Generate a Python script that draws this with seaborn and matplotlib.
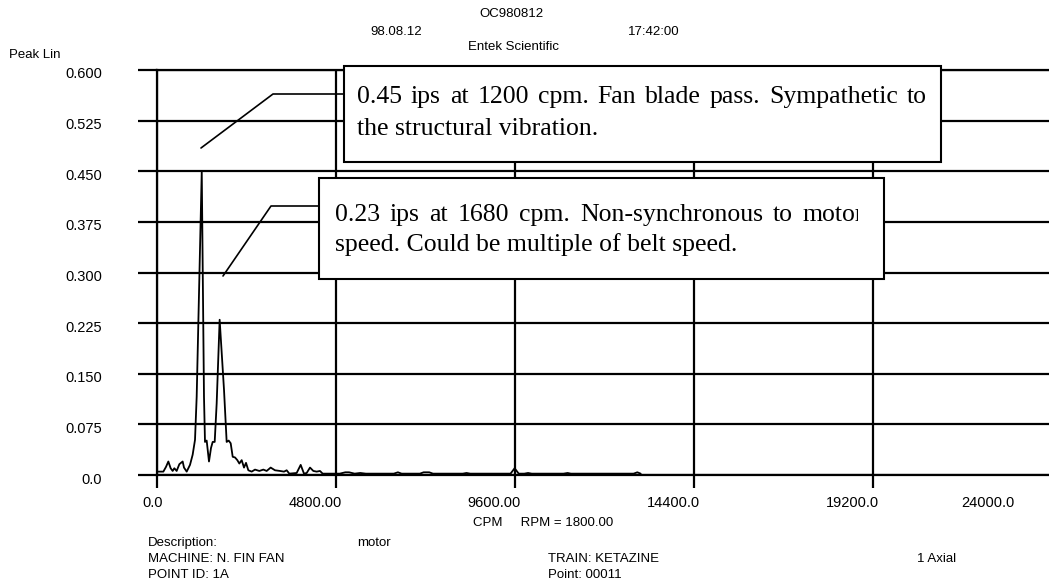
import matplotlib
matplotlib.use("Agg")
import numpy as np
import pandas as pd
import matplotlib.pyplot as plt
import seaborn as sns
from matplotlib.patches import Rectangle
from matplotlib.lines import Line2D
from matplotlib.transforms import ScaledTranslation, Bbox, TransformedBbox

# ---------------- data ----------------
# Background spectrum, CPM vs peak amplitude (ips)
cpm = [35, 170, 241, 304, 366, 420, 465, 527, 599, 688, 724, 796, 885, 956,
       1019, 1064, 1260, 1287, 1332, 1394, 1448, 1493, 1547, 1600, 1797, 1868,
       1922, 1976, 2030, 2092, 2154, 2208, 2271, 2333, 2387, 2449, 2539, 2628,
       2744, 2851, 2941, 3048, 3164, 3298, 3406, 3477, 3548, 3745, 3853, 3942,
       4014, 4103, 4192, 4282, 4371, 4442, 4600, 4900, 5050, 5150, 5300, 5450,
       5600, 6350, 6460, 6560, 7050, 7150, 7300, 7400, 8200, 8300, 8400, 9480,
       9590, 9700, 9850, 9950, 10050, 10900, 11010, 11100, 12780, 12880, 12970]
ips = [0.005, 0.005, 0.012, 0.020, 0.010, 0.006, 0.010, 0.006, 0.016, 0.020,
       0.011, 0.005, 0.015, 0.030, 0.052, 0.116, 0.116, 0.049, 0.051, 0.020,
       0.040, 0.049, 0.049, 0.106, 0.126, 0.049, 0.051, 0.047, 0.027, 0.026,
       0.022, 0.017, 0.022, 0.011, 0.018, 0.007, 0.005, 0.008, 0.006, 0.008,
       0.006, 0.011, 0.007, 0.006, 0.005, 0.007, 0.002, 0.003, 0.015, 0.002,
       0.003, 0.011, 0.006, 0.005, 0.006, 0.002, 0.002, 0.002, 0.004, 0.004,
       0.002, 0.003, 0.002, 0.002, 0.004, 0.002, 0.002, 0.004, 0.004, 0.002,
       0.002, 0.003, 0.002, 0.002, 0.010, 0.002, 0.002, 0.003, 0.002, 0.002,
       0.003, 0.002, 0.002, 0.004, 0.002]

# Annotated peaks
peak_cpm = [1200, 1680]
peak_ips = [0.45, 0.23]
peak_line1_tail = ["Fan blade pass. Sympathetic to",
                   "Non-synchronous to motor"]
peak_line2 = ["the structural vibration.",
              "speed. Could be multiple of belt speed."]

y_ticks = [0.0, 0.075, 0.150, 0.225, 0.300, 0.375, 0.450, 0.525, 0.600]
y_tick_labels = ["0.0", "0.075", "0.150", "0.225", "0.300", "0.375",
                 "0.450", "0.525", "0.600"]
x_ticks = [0, 4800, 9600, 14400, 19200, 24000]
x_tick_labels = ["0.0", "4800.00", "9600.00", "14400.0", "19200.0", "24000.0"]

spectrum = (pd.DataFrame({"cpm": cpm + peak_cpm, "ips": ips + peak_ips})
            .sort_values("cpm").reset_index(drop=True))

# ---------------- figure ----------------
W, H = 1049, 583
sns.set_style("white")
plt.rcParams["font.family"] = ["Liberation Sans", "DejaVu Sans"]

fig = plt.figure(figsize=(W / 100, H / 100), dpi=100)
fig.patch.set_facecolor("white")


def fx(x):
    return x / W


def fy(y):
    return 1 - y / H


ax = fig.add_axes([fx(157), fy(475), 895 / W, 405 / H])
sns.lineplot(data=spectrum, x="cpm", y="ips", ax=ax, color="black",
             linewidth=1.3, estimator=None)
ax.set_xlim(0, 24000)
ax.set_ylim(0, 0.6)
ax.set_xlabel("")
ax.set_ylabel("")
ax.set_xticks(x_ticks, x_tick_labels)
ax.set_yticks(y_ticks, y_tick_labels)
ax.grid(True, color="black", linewidth=1.6)
for side in ["left", "top", "bottom"]:
    ax.spines[side].set_visible(True)
    ax.spines[side].set_color("black")
    ax.spines[side].set_linewidth(1.6)
ax.spines["right"].set_visible(False)
ax.tick_params(axis="y", left=True, length=13.7, width=1.6, pad=26,
               labelsize=10.5, colors="black")
ax.tick_params(axis="x", bottom=True, length=9.4, width=1.6, pad=6,
               labelsize=10.5, colors="black")

for lab in ax.get_yticklabels():
    lab.set_transform(lab.get_transform()
                      + ScaledTranslation(0, -3 / 100, fig.dpi_scale_trans))
xlabs = ax.get_xticklabels()
for i, lab in enumerate(xlabs):
    dx = 6 if i < len(xlabs) - 1 else -37
    lab.set_horizontalalignment("right")
    lab.set_transform(lab.get_transform()
                      + ScaledTranslation(dx / 100, 0, fig.dpi_scale_trans))

# ---------------- header / footer text ----------------
small = dict(fontsize=9.5, color="black")
fig.text(fx(511), fy(14), "OC980812", ha="center", va="center", **small)
fig.text(fx(396), fy(32), "98.08.12", ha="center", va="center", **small)
fig.text(fx(654), fy(32), "17:42:00", ha="center", va="center", **small)
fig.text(fx(514), fy(47), "Entek Scientific", ha="center", va="center", **small)
fig.text(fx(9), fy(55), "Peak Lin", ha="left", va="center", **small)
fig.text(fx(473), fy(523), "CPM     RPM = 1800.00", ha="left", va="center", **small)
fig.text(fx(148), fy(543), "Description:", ha="left", va="center", **small)
fig.text(fx(357), fy(543), "motor", ha="left", va="center", **small)
fig.text(fx(148), fy(559), "MACHINE: N. FIN FAN", ha="left", va="center", **small)
fig.text(fx(148), fy(575), "POINT ID: 1A", ha="left", va="center", **small)
fig.text(fx(548), fy(559), "TRAIN: KETAZINE", ha="left", va="center", **small)
fig.text(fx(548), fy(575), "Point: 00011", ha="left", va="center", **small)
fig.text(fx(917), fy(559), "1 Axial", ha="left", va="center", **small)

# ---------------- callouts ----------------
serif = dict(fontsize=18.5, color="black",
             family=["Liberation Serif", "DejaVu Serif"])
renderer = fig.canvas.get_renderer()


def add_box(x0, y0, x1, y1):
    fig.add_artist(Rectangle((fx(x0), fy(y1)), (x1 - x0) / W, (y1 - y0) / H,
                             transform=fig.transFigure, facecolor="white",
                             edgecolor="black", linewidth=1.5, zorder=3))


def add_justified(text, x0, x1, y, clip=None):
    words = text.split()
    arts = [fig.text(0, 0, w, va="baseline", ha="left", zorder=4, **serif)
            for w in words]
    widths = [a.get_window_extent(renderer).width for a in arts]
    gap = (x1 - x0 - sum(widths)) / (len(words) - 1)
    x = x0
    for a, w in zip(arts, widths):
        a.set_position((fx(x), fy(y)))
        if clip is not None:
            a.set_clip_box(TransformedBbox(Bbox(clip), fig.transFigure))
            a.set_clip_on(True)
        x += w + gap


def add_leader(points):
    xs = [fx(p[0]) for p in points]
    ys = [fy(p[1]) for p in points]
    fig.add_artist(Line2D(xs, ys, transform=fig.transFigure, color="black",
                          linewidth=1.2, zorder=3))


callouts = [
    dict(box=(344, 66, 941, 162), text_x=(357, 927), base=(103, 135),
         clip=None, leader=[(344, 94), (273, 94), (201, 148)]),
    dict(box=(319, 178, 884, 279), text_x=(335, 864), base=(221, 251),
         clip=[[fx(319), fy(279)], [fx(858), fy(178)]],
         leader=[(319, 206), (271, 206), (223, 276)]),
]
for c, pc, pv, tail, line2 in zip(callouts, peak_cpm, peak_ips,
                                  peak_line1_tail, peak_line2):
    add_box(*c["box"])
    add_leader(c["leader"])
    line1 = f"{pv:.2f} ips at {pc} cpm. {tail}"
    add_justified(line1, c["text_x"][0], c["text_x"][1], c["base"][0], c["clip"])
    fig.text(fx(c["text_x"][0]), fy(c["base"][1]), line2, va="baseline",
             ha="left", zorder=4, **serif)

fig.savefig("out.png", dpi=100, facecolor="white")
